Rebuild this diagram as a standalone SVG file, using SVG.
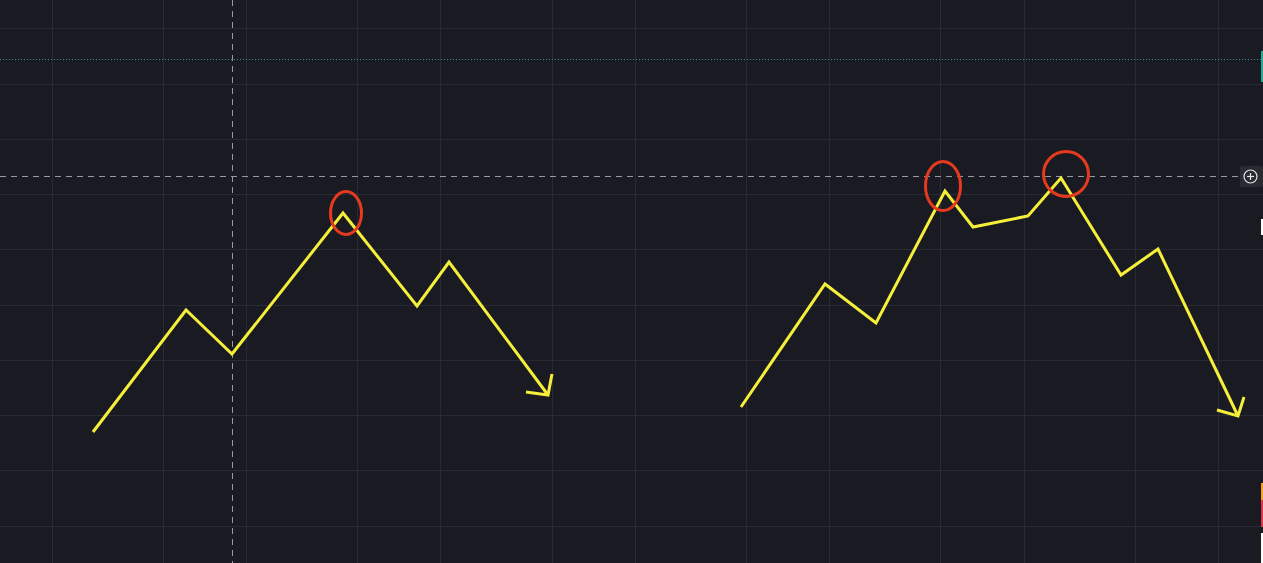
<svg xmlns="http://www.w3.org/2000/svg" width="1263" height="563" viewBox="0 0 1263 563">
<style>
.grid line{stroke:#2a2a34;stroke-width:1}
.trend{fill:none;stroke:#f5ef3a;stroke-width:3;stroke-linejoin:miter;stroke-linecap:butt}
.mark{fill:none;stroke:#e63a1f;stroke-width:3}
.cross{stroke:#9a9aa2;stroke-width:1;stroke-dasharray:6 5}
</style>
<rect width="1263" height="563" fill="#1a1a22"/>
<g class="grid">
<line x1="52.5" y1="0" x2="52.5" y2="563"/><line x1="163.5" y1="0" x2="163.5" y2="563"/><line x1="246.5" y1="0" x2="246.5" y2="563"/><line x1="357.5" y1="0" x2="357.5" y2="563"/><line x1="440.5" y1="0" x2="440.5" y2="563"/><line x1="552.5" y1="0" x2="552.5" y2="563"/><line x1="635.5" y1="0" x2="635.5" y2="563"/><line x1="746.5" y1="0" x2="746.5" y2="563"/><line x1="829.5" y1="0" x2="829.5" y2="563"/><line x1="940.5" y1="0" x2="940.5" y2="563"/><line x1="1024.5" y1="0" x2="1024.5" y2="563"/><line x1="1135.5" y1="0" x2="1135.5" y2="563"/><line x1="1218.5" y1="0" x2="1218.5" y2="563"/>
<line x1="0" y1="28.5" x2="1263" y2="28.5"/><line x1="0" y1="84.5" x2="1263" y2="84.5"/><line x1="0" y1="139.5" x2="1263" y2="139.5"/><line x1="0" y1="194.5" x2="1263" y2="194.5"/><line x1="0" y1="249.5" x2="1263" y2="249.5"/><line x1="0" y1="305.5" x2="1263" y2="305.5"/><line x1="0" y1="360.5" x2="1263" y2="360.5"/><line x1="0" y1="415.5" x2="1263" y2="415.5"/><line x1="0" y1="470.5" x2="1263" y2="470.5"/><line x1="0" y1="526.5" x2="1263" y2="526.5"/>
</g>
<line x1="0" y1="59.5" x2="1263" y2="59.5" stroke="#3f8f86" stroke-width="1" stroke-dasharray="1 2"/>
<line class="cross" x1="232.5" y1="0" x2="232.5" y2="563"/>
<line class="cross" x1="0" y1="176.5" x2="1240" y2="176.5"/>
<g id="price-scale-marks">
<rect x="1261" y="51" width="2" height="31" fill="#22ab94"/>
<rect x="1261" y="219" width="2" height="16" fill="#ffffff"/>
<rect x="1261" y="483" width="2" height="17" fill="#f7a21b"/>
<rect x="1261" y="500" width="2" height="27" fill="#e0344a"/>
<rect x="1261" y="533" width="2" height="30" fill="#ffffff"/>
</g>
<g id="plus-button">
<rect x="1240" y="166" width="23" height="21" rx="2" fill="#2a2a33"/>
<circle cx="1250.5" cy="176.5" r="6.5" fill="none" stroke="#e6e6ea" stroke-width="1.2"/>
<line x1="1247" y1="176.5" x2="1254" y2="176.5" stroke="#e6e6ea" stroke-width="1.2"/>
<line x1="1250.5" y1="173" x2="1250.5" y2="180" stroke="#e6e6ea" stroke-width="1.2"/>
</g>
<g id="connectors">
<polyline id="left-path" class="trend" points="93,432 186,310 232,354 343,213 417,306 449,262 548,395"/>
<polyline class="trend" points="526,392 548,395 552,374"/>
<polyline id="right-path" class="trend" points="741,407 825,284 876,323 945,191 973,227 1028,216 1061,178 1121,275 1158,249 1238,416"/>
<polyline class="trend" points="1217,410 1238,416 1244,397"/>
</g>
<g id="marker-left"><ellipse class="mark" cx="346" cy="213" rx="15.5" ry="21.5"/></g>
<g id="marker-right-1"><ellipse class="mark" cx="943" cy="186" rx="17.5" ry="24.5"/></g>
<g id="marker-right-2"><ellipse class="mark" cx="1066" cy="174" rx="22.5" ry="22.5"/></g>
</svg>
